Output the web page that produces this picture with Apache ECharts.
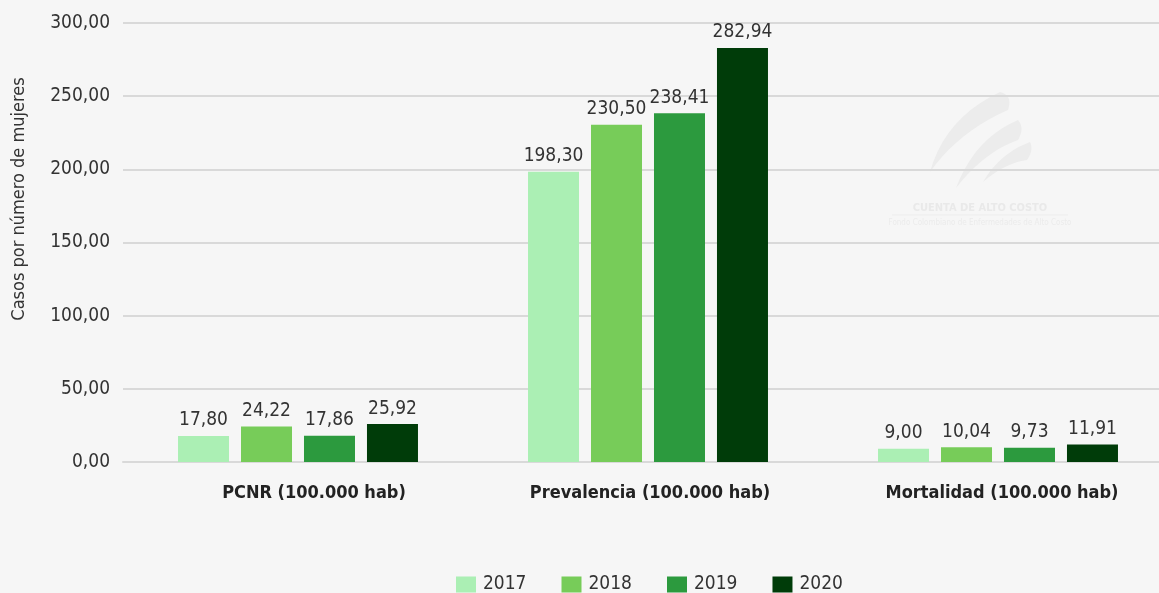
<!DOCTYPE html>
<html>
<head>
<meta charset="utf-8">
<script src="https://cdn.jsdelivr.net/npm/echarts@6/dist/echarts.min.js"></script>
<style>
html,body{margin:0;padding:0;background:#f6f6f6;}
#chart{width:1159px;height:593px;}
</style>
</head>
<body>
<div id="chart"></div>
<script>
const categories = ['PCNR (100.000 hab)', 'Prevalencia (100.000 hab)', 'Mortalidad (100.000 hab)'];
const years = ['2017', '2018', '2019', '2020'];
const values2017 = [17.80, 198.30, 9.00];
const values2018 = [24.22, 230.50, 10.04];
const values2019 = [17.86, 238.41, 9.73];
const values2020 = [25.92, 282.94, 11.91];
const yTicks = [0, 50, 100, 150, 200, 250, 300];
const yTitle = 'Casos por número de mujeres';

const colors = ['#abefb4', '#77cc59', '#2c9a3e', '#003c09'];
const FONT = '"DejaVu Sans Condensed", "Roboto", sans-serif';
const fmt = v => v.toFixed(2).replace('.', ',');

const seriesData = [values2017, values2018, values2019, values2020];
const logoFill = '#ececec';

// Category labels sit slightly right of their bar groups
const labelShift = [32, 4, 8];

// Sample a chain of quadratic curves [start, ctrl, end, ctrl, end, ...] into polygon points
function curvePoints(start, segs) {
  const pts = [start];
  let p0 = start;
  for (const [c, p1] of segs) {
    for (let t = 0.1; t <= 1.0001; t += 0.1) {
      const a = (1 - t) * (1 - t), b = 2 * (1 - t) * t, d = t * t;
      pts.push([a * p0[0] + b * c[0] + d * p1[0], a * p0[1] + b * c[1] + d * p1[1]]);
    }
    p0 = p1;
  }
  return pts;
}

const swooshes = [
  curvePoints([930, 172], [[[945, 118], [1000, 92]], [[1013, 95], [1008, 110]], [[958, 132], [930, 172]]]),
  curvePoints([956, 188], [[[975, 138], [1018, 120]], [[1025, 128], [1018, 140]], [[984, 152], [956, 188]]]),
  curvePoints([983, 182], [[[1000, 153], [1030, 142]], [[1034, 150], [1027, 160]], [[1005, 163], [983, 182]]])
];

const catRich = {};
labelShift.forEach((s, i) => {
  catRich['c' + i] = {
    fontFamily: FONT, fontSize: 18, fontWeight: 'bold', color: '#222',
    padding: [0, 0, 0, s]
  };
});

const chart = echarts.init(document.getElementById('chart'));
chart.setOption({
  backgroundColor: '#f6f6f6',
  textStyle: { fontFamily: FONT },
  grid: { left: 123, width: 1050, top: 23, bottom: 131, outerBoundsMode: 'none', containLabel: false },
  legend: {
    data: years,
    bottom: -6,
    left: 451,
    itemWidth: 20,
    itemHeight: 16,
    itemGap: 35,
    icon: 'rect',
    textStyle: { fontFamily: FONT, fontSize: 19, color: '#333', padding: [0, 0, 0, 2] }
  },
  xAxis: {
    type: 'category',
    data: categories,
    axisLine: { show: true, lineStyle: { color: '#d9d9d9', width: 2 } },
    axisTick: { show: false },
    axisLabel: {
      fontFamily: FONT, fontSize: 18, fontWeight: 'bold', color: '#222',
      margin: 22, interval: 0,
      formatter: (v, idx) => '{c' + idx + '|' + v + '}',
      rich: catRich
    }
  },
  yAxis: {
    type: 'value',
    min: yTicks[0],
    max: yTicks[yTicks.length - 1],
    interval: 50,
    axisLine: { show: false },
    axisTick: { show: false },
    splitLine: { lineStyle: { color: '#d9d9d9', width: 2 } },
    axisLabel: {
      fontFamily: FONT, fontSize: 19, color: '#333', margin: 13,
      formatter: v => fmt(v)
    }
  },
  graphic: [
    {
      type: 'text', x: 19, y: 199, rotation: Math.PI / 2,
      style: { text: yTitle, fill: '#333', font: '18px ' + FONT, align: 'center', verticalAlign: 'middle' }
    },
    ...swooshes.map(pts => ({
      type: 'polygon', silent: true, z: -1,
      shape: { points: pts },
      style: { fill: logoFill }
    })),
    {
      type: 'text', x: 980, y: 208, silent: true,
      style: { text: 'CUENTA DE ALTO COSTO', fill: '#e9e9e9', font: 'bold 11px ' + FONT, align: 'center', verticalAlign: 'middle' }
    },
    {
      type: 'line', silent: true,
      shape: { x1: 892, y1: 215, x2: 1068, y2: 215 },
      style: { stroke: '#ededed', lineWidth: 1 }
    },
    {
      type: 'text', x: 980, y: 223, silent: true,
      style: { text: 'Fondo Colombiano de Enfermedades de Alto Costo', fill: '#ebebeb', font: '8px ' + FONT, align: 'center', verticalAlign: 'middle' }
    }
  ],
  series: years.map((y, i) => ({
    name: y,
    type: 'bar',
    data: seriesData[i],
    barWidth: 51,
    barGap: '23.5%',
    itemStyle: { color: colors[i] },
    label: {
      show: true,
      position: 'top',
      distance: 6,
      fontFamily: FONT,
      fontSize: 19,
      color: '#333',
      formatter: p => fmt(p.value)
    }
  }))
});
</script>
</body>
</html>
